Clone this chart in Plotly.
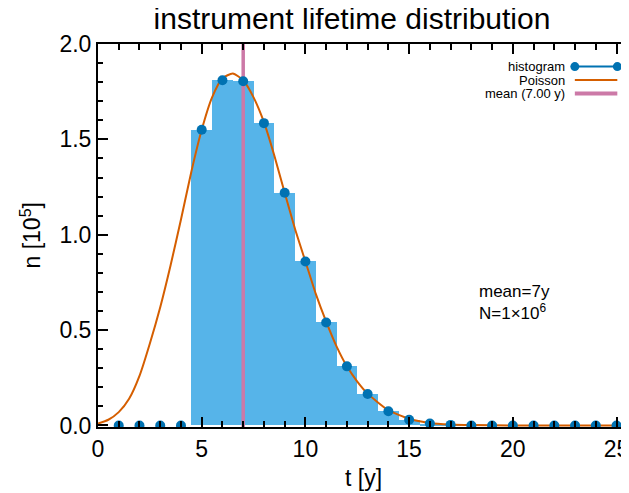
import plotly.graph_objects as go

# histogram of lifetimes (units of 1e5 counts), one bin per year
t_bins = list(range(1, 26))
n_hist = [0, 0, 0, 0, 1.55, 1.81, 1.805, 1.585, 1.22, 0.86, 0.54, 0.31, 0.165,
          0.075, 0.03, 0.01, 0.003, 0, 0, 0, 0, 0, 0, 0, 0]

# smooth Poisson curve
t_curve = [0, 0.5, 1, 1.5, 2, 2.5, 3, 3.5, 4, 4.5, 5, 5.5, 6, 6.5, 7, 7.5, 8,
           8.5, 9, 9.5, 10, 10.5, 11, 11.5, 12, 12.5, 13, 14, 15, 16, 17, 18,
           20, 25.6]
n_curve = [0.01, 0.03, 0.07, 0.14, 0.26, 0.43, 0.62, 0.84, 1.08, 1.33, 1.55,
           1.72, 1.82, 1.845, 1.81, 1.72, 1.59, 1.415, 1.22, 1.03, 0.86, 0.69,
           0.545, 0.415, 0.31, 0.23, 0.167, 0.08, 0.035, 0.013, 0.005, 0.002,
           0.0, 0.0]

mean_t = 7.0
n_total = 6  # exponent: N = 1e6

x_range = [0, 25.6]
y_range = [-0.008, 2.0]

FONT = "Liberation Sans, Arial, Helvetica, sans-serif"
BLUE_BAR = "#56B4E9"
BLUE_DOT = "#0072B2"
ORANGE = "#D55E00"
PINK = "#CC79A7"

# the page body has an 8px margin, so the figure sits 8px in from the corner
PAD = 8
W, H = 629 - PAD, 493 - PAD

fig = go.Figure()

fig.add_trace(go.Bar(
    x=t_bins, y=n_hist, width=1,
    marker=dict(color=BLUE_BAR, line_width=0),
    showlegend=False,
))

fig.add_trace(go.Scatter(
    x=[mean_t, mean_t], y=y_range, mode="lines",
    line=dict(color=PINK, width=3.5), showlegend=False,
))

fig.add_trace(go.Scatter(
    x=t_curve, y=n_curve, mode="lines",
    line=dict(color=ORANGE, width=2, shape="spline", smoothing=0.6),
    showlegend=False,
))

fig.add_trace(go.Scatter(
    x=t_bins, y=n_hist, mode="markers",
    marker=dict(color=BLUE_DOT, size=10),
    showlegend=False,
))

# hand-made legend in the top right corner (text left of symbol)
legend_rows = [("histogram", BLUE_DOT, 2, 0.941),
               ("Poisson", ORANGE, 2, 0.906),
               ("mean (%.2f y)" % mean_t, PINK, 4, 0.871)]
x_text, x0, x1 = 0.883, 0.898, 0.978
shapes = []
annotations = []
for label, color, width, yp in legend_rows:
    annotations.append(dict(
        x=x_text, y=yp, xref="paper", yref="paper", text=label,
        showarrow=False, xanchor="right", yanchor="middle",
        font=dict(size=13, color="black", family=FONT),
    ))
    shapes.append(dict(type="line", xref="paper", yref="paper",
                       x0=x0, x1=x1, y0=yp, y1=yp,
                       line=dict(color=color, width=width)))
for xc in (x0, x1):
    shapes.append(dict(type="circle", xref="paper", yref="paper",
                       xsizemode="pixel", ysizemode="pixel",
                       xanchor=xc, yanchor=legend_rows[0][3],
                       x0=-4.5, x1=4.5, y0=-4.5, y1=4.5,
                       fillcolor=BLUE_DOT, line_width=0))

annotations.append(dict(
    x=0.713, y=0.354, xref="paper", yref="paper", text="mean=%dy" % mean_t,
    showarrow=False, xanchor="left", yanchor="middle",
    font=dict(size=17, color="black", family=FONT),
))
annotations.append(dict(
    x=0.713, y=0.301, xref="paper", yref="paper",
    text="N=1×10<sup>%d</sup>" % n_total,
    showarrow=False, xanchor="left", yanchor="middle",
    font=dict(size=17, color="black", family=FONT),
))

# axis titles placed by hand so the plot area stays fixed
annotations.append(dict(
    x=0.5, y=-(478 - 427) / 383, xref="paper", yref="paper", text="t [y]",
    showarrow=False, xanchor="center", yanchor="middle",
    font=dict(size=23, color="black", family=FONT),
))
annotations.append(dict(
    x=-(98 - 30) / 531, y=0.5, xref="paper", yref="paper",
    text="n [10<sup>5</sup>]", textangle=-90,
    showarrow=False, xanchor="center", yanchor="middle",
    font=dict(size=23, color="black", family=FONT),
))

axis_common = dict(
    showline=True, linecolor="black", linewidth=2,
    ticks="inside", ticklen=10, tickwidth=1.5, tickcolor="black",
    showgrid=False, zeroline=False, automargin=False,
    ticklabeloverflow="allow",
    tickfont=dict(size=23, color="black", family=FONT),
)

# plot area in page pixels: x 98..629, y 44..427
fig.update_layout(
    width=W, height=H,
    margin=dict(l=98 - PAD, r=629 - PAD - W, t=44 - PAD, b=PAD + H - 427,
                autoexpand=False),
    paper_bgcolor="white", plot_bgcolor="white",
    bargap=0,
    font=dict(family=FONT, color="black"),
    title=dict(text="instrument lifetime distribution",
               x=(352 - PAD) / W, xref="container", xanchor="center",
               y=1 - (18 - PAD) / H, yref="container", yanchor="middle",
               font=dict(size=30, color="black", family=FONT)),
    xaxis=dict(
        axis_common, range=x_range, mirror="ticks",
        tickvals=[0, 5, 10, 15, 20, 25],
        minor=dict(dtick=1, ticks="inside", ticklen=6, tickcolor="black",
                   tickwidth=1.5, showgrid=False),
    ),
    yaxis=dict(
        axis_common, range=y_range, mirror=False,
        tickvals=[0, 0.5, 1.0, 1.5, 2.0], tickformat=".1f",
        minor=dict(dtick=0.1, ticks="inside", ticklen=5, tickcolor="black",
                   tickwidth=1.5, showgrid=False),
    ),
    shapes=shapes,
    annotations=annotations,
)

fig.write_html("out.html")
